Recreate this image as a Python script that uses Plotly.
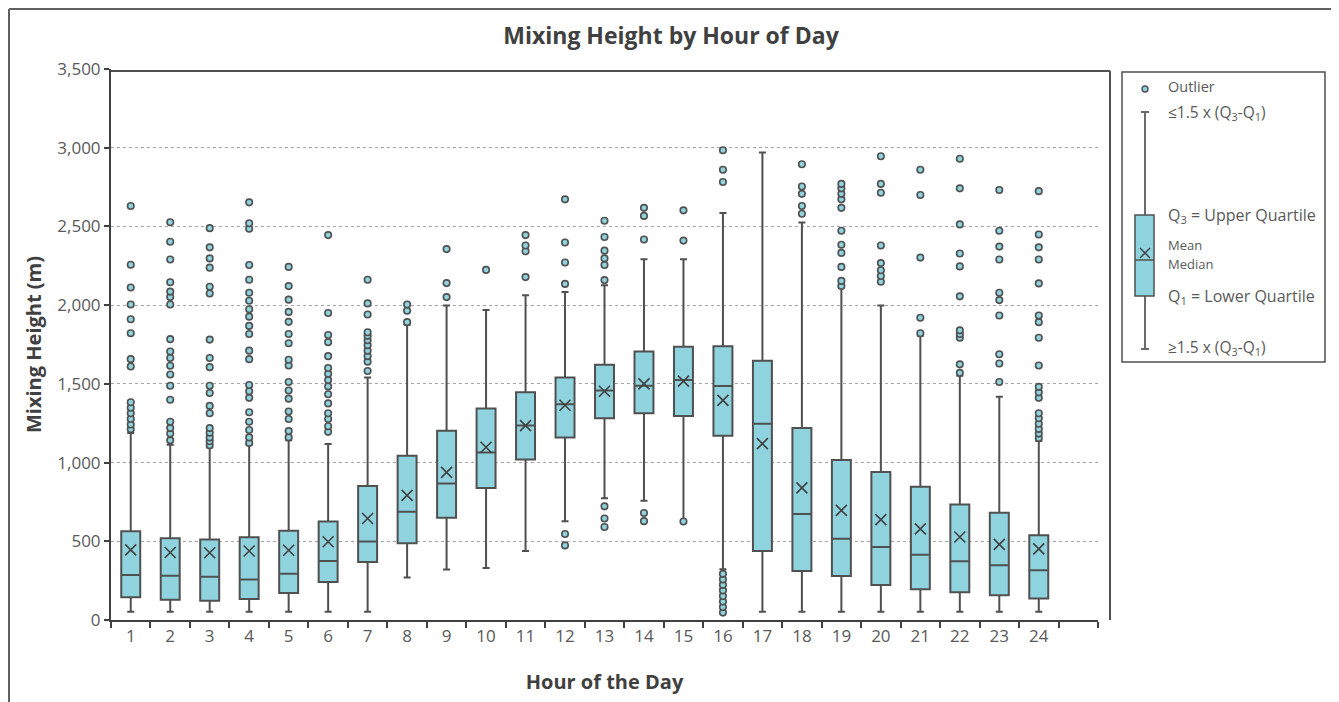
import plotly.graph_objects as go

hours = list(range(1, 25))
q1 = [145, 129, 122, 134, 171, 241, 368, 488, 649, 839, 1020, 1160, 1282, 1313, 1296, 1170,
      438, 312, 279, 223, 195, 176, 157, 136]
median = [286, 281, 274, 258, 293, 375, 499, 687, 867, 1064, 1235, 1371, 1458, 1488, 1524, 1486,
          1247, 673, 516, 464, 415, 373, 347, 316]
q3 = [563, 520, 511, 525, 567, 626, 851, 1043, 1202, 1343, 1446, 1540, 1622, 1706, 1735, 1739,
      1646, 1219, 1017, 940, 846, 734, 682, 539]
mean = [445, 429, 427, 438, 443, 497, 645, 792, 938, 1097, 1235, 1364, 1453, 1500, 1517, 1395,
        1120, 839, 696, 638, 579, 527, 480, 452]
lower_whisker = [52, 52, 52, 52, 52, 52, 52, 270, 321, 330, 438, 628, 774, 757, 628, 323,
                 52, 52, 52, 52, 52, 52, 52, 52]
upper_whisker = [1188, 1113, 1095, 1113, 1141, 1118, 1540, 1875, 1997, 1969, 2063, 2084, 2126, 2292,
                 2292, 2585, 2970, 2525, 2110, 1997, 1805, 1552, 1418, 1137]
outliers = [
    [1212, 1242, 1277, 1313, 1348, 1383, 1610, 1657, 1821, 1910, 2004, 2112, 2257, 2630],
    [1141, 1184, 1219, 1259, 1399, 1488, 1559, 1615, 1664, 1706, 1784, 2004, 2051, 2086, 2145, 2290, 2403, 2527],
    [1110, 1135, 1160, 1190, 1219, 1313, 1360, 1442, 1488, 1606, 1664, 1781, 2074, 2117, 2238, 2297, 2367, 2489],
    [1125, 1160, 1207, 1259, 1320, 1411, 1453, 1493, 1657, 1711, 1817, 1868, 1927, 1974, 2028, 2079, 2161, 2255,
     2485, 2520, 2653],
    [1160, 1200, 1277, 1324, 1406, 1458, 1512, 1617, 1653, 1758, 1817, 1894, 1957, 2035, 2121, 2243],
    [1195, 1231, 1277, 1313, 1376, 1434, 1484, 1524, 1564, 1601, 1676, 1765, 1810, 1950, 2445],
    [1582, 1641, 1676, 1711, 1746, 1777, 1805, 1828, 1941, 2011, 2161],
    [1892, 1964, 2004],
    [2051, 2140, 2356],
    [2224],
    [2178, 2342, 2379, 2445],
    [474, 546, 2135, 2271, 2398, 2672],
    [591, 645, 722, 2159, 2255, 2297, 2346, 2433, 2536],
    [628, 680, 2417, 2567, 2618],
    [626, 2410, 2602],
    [47, 82, 117, 152, 188, 223, 258, 293, 2782, 2860, 2984],
    [],
    [2581, 2630, 2707, 2754, 2895],
    [2121, 2154, 2243, 2332, 2384, 2473, 2618, 2672, 2707, 2742, 2770],
    [2149, 2185, 2222, 2267, 2379, 2714, 2770, 2946],
    [1821, 1920, 2302, 2700, 2860],
    [1570, 1624, 1793, 1817, 1840, 2056, 2246, 2328, 2513, 2742, 2930],
    [1512, 1629, 1688, 1934, 2032, 2079, 2290, 2372, 2473, 2731],
    [1156, 1184, 1214, 1247, 1282, 1313, 1411, 1446, 1481, 1617, 1793, 1892, 1934, 2138, 2290, 2367, 2449, 2724],
]
y_ticks = [0, 500, 1000, 1500, 2000, 2500, 3000, 3500]
y_tick_labels = ["0", "500", "1,000", "1,500", "2,000", "2,500", "3,000", "3,500"]

FILL = "#8FD3DF"
EDGE = "#505050"
TXT = "#595959"
FONT = "Open Sans"

OFF = 8  # page body offset
W, H = 1339 - OFF, 702 - OFF
L, R, T, B = 111 - OFF, 1098 - OFF, 69 - OFF, 620 - OFF


def px(xp):
    return (xp - OFF - L) / (R - L)


def py(yp):
    return (B - (yp - OFF)) / (B - T)


fig = go.Figure()
fig.add_trace(go.Box(
    x=hours, q1=q1, median=median, q3=q3,
    lowerfence=lower_whisker, upperfence=upper_whisker,
    width=0.48, whiskerwidth=0.37, boxpoints=False,
    fillcolor=FILL, line=dict(color=EDGE, width=2),
    showlegend=False, hoverinfo="skip",
))

ox, oy = [], []
for h, vals in zip(hours, outliers):
    for v in vals:
        ox.append(h)
        oy.append(v)
fig.add_trace(go.Scatter(
    x=ox, y=oy, mode="markers",
    marker=dict(symbol="circle", size=6.5, color=FILL, line=dict(color=EDGE, width=1.6)),
    showlegend=False, hoverinfo="skip",
))
fig.add_trace(go.Scatter(
    x=hours, y=mean, mode="markers",
    marker=dict(symbol="x-thin", size=11, line=dict(color="#404040", width=1.6)),
    showlegend=False, hoverinfo="skip",
))

shapes = []
FR = dict(color="#606060", width=2)
# outer frame (left, top, right)
shapes.append(dict(type="line", xref="paper", yref="paper", x0=px(9), x1=px(9), y0=py(702), y1=py(9), line=FR))
shapes.append(dict(type="line", xref="paper", yref="paper", x0=px(9), x1=px(1336), y0=py(9), y1=py(9), line=FR))
shapes.append(dict(type="line", xref="paper", yref="paper", x0=px(1336), x1=px(1336), y0=py(702), y1=py(9), line=FR))
# plot frame (top + right)
shapes.append(dict(type="line", xref="paper", yref="paper", x0=px(111), x1=px(1110), y0=py(71), y1=py(71),
                   line=dict(color="#505050", width=2)))
shapes.append(dict(type="line", xref="paper", yref="paper", x0=px(1110), x1=px(1110), y0=py(71), y1=py(620),
                   line=dict(color="#505050", width=2)))
# legend box
shapes.append(dict(type="rect", xref="paper", yref="paper", x0=px(1122), x1=px(1325), y0=py(362), y1=py(72),
                   line=dict(color="#505050", width=1.5), fillcolor="white"))
# legend glyph: whisker
lx = 1145
shapes.append(dict(type="line", xref="paper", yref="paper", x0=px(lx), x1=px(lx), y0=py(349), y1=py(112),
                   line=dict(color="#6a6a6a", width=2)))
for yy in (112, 349):
    shapes.append(dict(type="line", xref="paper", yref="paper", x0=px(lx - 4), x1=px(lx + 4), y0=py(yy), y1=py(yy),
                       line=dict(color="#6a6a6a", width=2)))
shapes.append(dict(type="rect", xref="paper", yref="paper", x0=px(1135), x1=px(1154), y0=py(296), y1=py(215),
                   line=dict(color=EDGE, width=1.5), fillcolor=FILL))
shapes.append(dict(type="line", xref="paper", yref="paper", x0=px(1135), x1=px(1154), y0=py(260), y1=py(260),
                   line=dict(color=EDGE, width=1.5)))
shapes.append(dict(type="line", xref="paper", yref="paper", x0=px(lx - 5), x1=px(lx + 5), y0=py(248), y1=py(258),
                   line=dict(color="#404040", width=1.4)))
shapes.append(dict(type="line", xref="paper", yref="paper", x0=px(lx - 5), x1=px(lx + 5), y0=py(258), y1=py(248),
                   line=dict(color="#404040", width=1.4)))
shapes.append(dict(type="circle", xref="paper", yref="paper", x0=px(lx - 3), x1=px(lx + 3), y0=py(92), y1=py(86),
                   line=dict(color=EDGE, width=1.4), fillcolor=FILL))

annotations = []
leg_items = [
    ("Outlier", 86, 14.5),
    ("≤1.5 x (Q<sub>3</sub>-Q<sub>1</sub>)", 113, 15.5),
    ("Q<sub>3</sub> = Upper Quartile", 215, 16),
    ("Mean", 245.5, 13),
    ("Median", 263.5, 13),
    ("Q<sub>1</sub> = Lower Quartile", 296, 16),
    ("≥1.5 x (Q<sub>3</sub>-Q<sub>1</sub>)", 347, 15.5),
]
for txt, yy, size in leg_items:
    annotations.append(dict(text=txt, xref="paper", yref="paper", x=px(1166), y=py(yy),
                            xanchor="left", yanchor="middle", showarrow=False,
                            font=dict(family=FONT, size=size, color=TXT)))

fig.update_layout(
    width=W, height=H,
    margin=dict(l=L, r=W - R, t=T, b=H - B),
    paper_bgcolor="white", plot_bgcolor="white",
    title=dict(text="<b>Mixing Height by Hour of Day</b>", x=(671 - OFF) / W, xref="container",
               y=1 - (36 - OFF) / H, yref="container", xanchor="center", yanchor="middle",
               font=dict(family=FONT, size=23, color="#404040")),
    xaxis=dict(
        range=[0.5, 25.5], tickmode="array", tickvals=hours, ticktext=[str(h) for h in hours],
        ticks="", showgrid=False, zeroline=False,
        showline=True, linecolor="#404040", linewidth=2,
        tickfont=dict(family=FONT, size=17, color=TXT),
        minor=dict(tickmode="array", tickvals=[h - 0.5 for h in hours] + [24.5, 25.5],
                   ticks="outside", ticklen=6, tickwidth=1.5, tickcolor="#404040", showgrid=False),
        title=dict(text="<b>Hour of the Day</b>", standoff=29,
                   font=dict(family=FONT, size=20, color="#404040")),
    ),
    yaxis=dict(
        range=[0, 3500], tickmode="array", tickvals=y_ticks, ticktext=y_tick_labels,
        ticks="outside", ticklen=5, tickwidth=1.5, tickcolor="#404040",
        showgrid=True, gridcolor="#a6a6a6", gridwidth=1, griddash="dot",
        zeroline=False, showline=True, linecolor="#404040", linewidth=2,
        tickfont=dict(family=FONT, size=17, color=TXT),
        title=dict(text="<b>Mixing Height (m)</b>", standoff=10,
                   font=dict(family=FONT, size=20, color="#404040")),
    ),
    shapes=shapes,
    annotations=annotations,
)

fig.write_html("out.html")
